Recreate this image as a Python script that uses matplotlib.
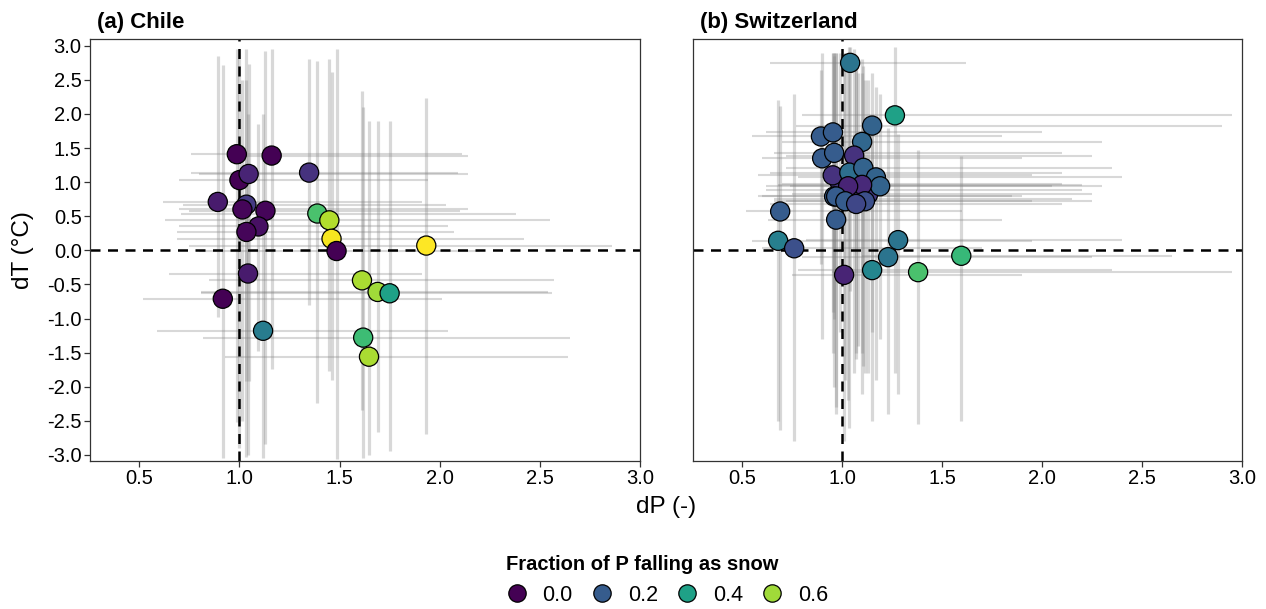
import matplotlib
matplotlib.use("Agg")
import matplotlib.pyplot as plt
import numpy as np
from matplotlib.colors import Normalize
from matplotlib.lines import Line2D

plt.rcParams['font.family'] = ['Liberation Sans', 'DejaVu Sans']

# (a) Chile
ch_dp = [0.987, 1.161, 1.348, 1.000, 1.046, 0.892, 1.035, 1.015, 1.130, 1.095, 1.035, 1.389,
         1.449, 1.460, 1.485, 1.933, 1.043, 0.917, 1.612, 1.690, 1.750, 1.118, 1.618, 1.647]
ch_dt = [1.41, 1.39, 1.14, 1.03, 1.12, 0.71, 0.67, 0.60, 0.58, 0.35, 0.27, 0.54,
         0.44, 0.17, -0.01, 0.07, -0.34, -0.71, -0.44, -0.61, -0.63, -1.18, -1.28, -1.56]
ch_snow = [0.0, 0.0, 0.1, 0.0, 0.07, 0.05, 0.12, 0.01, 0.01, 0.03, 0.01, 0.5,
           0.62, 0.69, 0.0, 0.7, 0.05, 0.0, 0.61, 0.6, 0.4, 0.29, 0.48, 0.61]
ch_dp_lo = [0.76, 0.95, 0.76, 0.70, 0.80, 0.62, 0.72, 0.70, 0.75, 0.70, 0.69, 0.71,
            0.63, 0.69, 0.80, 0.75, 0.65, 0.52, 0.85, 0.81, 0.81, 0.59, 0.82, 0.93]
ch_dp_hi = [2.11, 2.14, 2.09, 1.94, 2.14, 1.91, 2.03, 2.14, 2.10, 2.04, 2.07, 2.38,
            2.55, 2.42, 2.20, 2.86, 1.91, 2.01, 2.57, 2.54, 2.56, 2.04, 2.65, 2.64]
ch_dt_lo = [-2.52, -1.74, -0.80, -2.90, -1.92, -0.98, -3.03, -2.50, -2.84, -1.47, -1.92, -2.24,
            -1.77, -1.90, -3.06, -2.69, -3.00, -3.05, -2.34, -2.67, -2.95, -3.05, -3.05, -3.00]
ch_dt_hi = [2.95, 2.95, 2.81, 2.95, 2.74, 2.85, 2.95, 2.50, 2.93, 1.86, 2.50, 2.77,
            2.80, 2.62, 2.95, 2.23, 2.00, 2.72, 2.34, 1.90, 1.90, 2.00, 2.10, 1.90]

# (b) Switzerland
sw_dp = [1.07, 0.99, 1.13, 1.08, 0.96,
         1.04, 1.264, 1.15, 0.894, 0.954, 1.10, 0.90, 0.96, 1.06, 0.953, 1.036, 1.106,
         1.169, 1.19, 1.10, 1.03, 0.97, 1.016, 1.114, 1.07, 0.69, 0.97, 0.68, 0.76,
         1.28, 1.23, 1.15, 1.38, 1.596, 1.01]
sw_dt = [0.88, 0.98, 0.82, 0.76, 0.79,
         2.75, 1.98, 1.83, 1.67, 1.73, 1.59, 1.35, 1.43, 1.39, 1.10, 1.14, 1.21,
         1.07, 0.94, 0.96, 0.94, 0.79, 0.72, 0.72, 0.68, 0.57, 0.45, 0.14, 0.03,
         0.15, -0.10, -0.29, -0.32, -0.08, -0.36]
sw_snow = [0.10, 0.12, 0.12, 0.10, 0.20,
           0.27, 0.40, 0.22, 0.20, 0.20, 0.23, 0.20, 0.20, 0.10, 0.10, 0.25, 0.22,
           0.22, 0.22, 0.08, 0.07, 0.20, 0.20, 0.17, 0.15, 0.20, 0.20, 0.30, 0.17,
           0.27, 0.27, 0.32, 0.50, 0.47, 0.07]
sw_dp_lo = [0.62, 0.70, 0.75, 0.66, 0.58,
            0.64, 0.80, 0.77, 0.55, 0.62, 0.70, 0.60, 0.66, 0.72, 0.58, 0.64, 0.72,
            0.78, 0.74, 0.68, 0.62, 0.60, 0.66, 0.72, 0.64, 0.52, 0.63, 0.55, 0.60,
            0.82, 0.80, 0.78, 0.95, 1.10, 0.75]
sw_dp_hi = [2.20, 2.10, 2.25, 2.15, 1.90,
            1.62, 2.95, 2.90, 1.80, 2.00, 2.30, 1.90, 2.10, 2.25, 1.95, 2.10, 2.35,
            2.40, 2.30, 2.20, 2.05, 1.85, 1.95, 2.25, 2.10, 1.60, 1.80, 1.95, 1.70,
            2.40, 2.25, 2.35, 2.95, 2.65, 1.90]
sw_dt_lo = [-1.60, -1.20, -1.80, -1.40, -2.00,
            -0.60, -1.80, -1.20, -0.20, -0.90, -1.50, -1.30, -1.00, -1.80, -1.50, -2.60, -1.70,
            -1.90, -1.30, -2.10, -2.20, -2.30, -1.90, -1.80, -1.50, -2.64, -2.40, -2.50, -2.80,
            -2.10, -2.40, -2.50, -2.55, -2.50, -2.80]
sw_dt_hi = [2.70, 2.90, 2.50, 2.60, 2.85,
            2.98, 2.98, 2.60, 2.65, 2.90, 2.80, 2.90, 2.90, 2.95, 2.90, 2.98, 2.70,
            2.40, 2.30, 2.60, 2.80, 2.90, 2.90, 2.50, 2.70, 2.11, 2.90, 2.20, 2.30,
            1.70, 1.80, 1.95, 1.47, 1.39, 2.90]

legend_vals = [0.0, 0.2, 0.4, 0.6]

cmap = plt.get_cmap('viridis')
norm = Normalize(vmin=0.0, vmax=0.7)

fig = plt.figure(figsize=(12.66, 6.09), dpi=100)
ax_a = fig.add_axes([0.0711, 0.243, 0.4344, 0.693])
ax_b = fig.add_axes([0.5474, 0.243, 0.4336, 0.693])


def draw_panel(ax, dp, dt, snow, dp_lo, dp_hi, dt_lo, dt_hi, title):
    ax.vlines(dp, dt_lo, dt_hi, color='#808080', alpha=0.3, lw=2.3, zorder=1)
    ax.hlines(dt, dp_lo, dp_hi, color='#808080', alpha=0.3, lw=1.5, zorder=1)
    ax.axvline(1.0, color='black', ls=(0, (4, 3)), lw=1.8, zorder=2)
    ax.axhline(0.0, color='black', ls=(0, (4, 3)), lw=1.8, zorder=2)
    ax.scatter(dp, dt, c=snow, cmap=cmap, norm=norm, s=190,
               edgecolors='black', linewidths=0.9, zorder=3)
    ax.set_xlim(0.254, 3.0)
    ax.set_ylim(-3.09, 3.10)
    xt = np.arange(0.5, 3.01, 0.5)
    yt = np.arange(-3.0, 3.01, 0.5)
    ax.set_xticks(xt)
    ax.set_xticklabels([f'{v:.1f}' for v in xt])
    ax.set_yticks(yt)
    ax.set_yticklabels([f'{v:.1f}' for v in yt])
    ax.tick_params(labelsize=14.5, colors='#333333', labelcolor='black',
                   length=4, width=0.9, pad=2)
    for sp in ax.spines.values():
        sp.set_color('#333333')
        sp.set_linewidth(0.9)
    ax.text(0.013, 1.04, title, transform=ax.transAxes, fontsize=16,
            fontweight='bold', ha='left', va='center')


draw_panel(ax_a, ch_dp, ch_dt, ch_snow, ch_dp_lo, ch_dp_hi, ch_dt_lo, ch_dt_hi,
           '(a) Chile')
draw_panel(ax_b, sw_dp, sw_dt, sw_snow, sw_dp_lo, sw_dp_hi, sw_dt_lo, sw_dt_hi,
           '(b) Switzerland')
ax_b.tick_params(axis='y', left=False, labelleft=False)

fig.text(0.0185, 0.5895, 'dT (°C)', fontsize=17.5, rotation=90,
         ha='center', va='center')
fig.text(0.526, 0.1675, 'dP (-)', fontsize=17.5, ha='center', va='center')

handles = [Line2D([], [], marker='o', ls='none', markersize=12.5,
                  markerfacecolor=cmap(norm(v)), markeredgecolor='black',
                  markeredgewidth=0.9) for v in legend_vals]
leg = fig.legend(handles, [f'{v:.1f}' for v in legend_vals], ncol=4,
                 loc='upper left', bbox_to_anchor=(506 / 1266, 1 - 555 / 609),
                 frameon=False, fontsize=15.5, handlelength=1.0,
                 handletextpad=0.7, columnspacing=0.85, borderpad=0,
                 borderaxespad=0, alignment='left',
                 title='Fraction of P falling as snow',
                 title_fontproperties={'weight': 'bold', 'size': 14.5})

fig.savefig('out.png', dpi=100)
